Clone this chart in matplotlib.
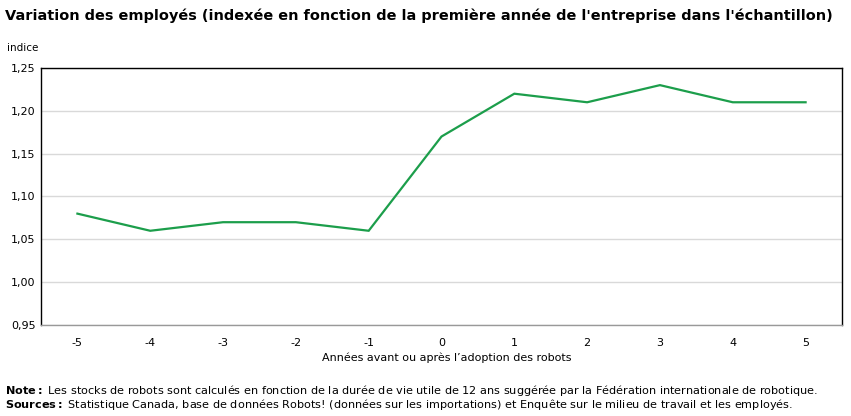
import matplotlib
matplotlib.use("Agg")
import matplotlib.pyplot as plt
from matplotlib.ticker import FuncFormatter

plt.rcParams["axes.unicode_minus"] = False

years = [-5, -4, -3, -2, -1, 0, 1, 2, 3, 4, 5]
values = [1.08, 1.06, 1.07, 1.07, 1.06, 1.17, 1.22, 1.21, 1.23, 1.21, 1.21]
yticks = [0.95, 1.00, 1.05, 1.10, 1.15, 1.20, 1.25]

W, H = 851, 416
fig = plt.figure(figsize=(W/100, H/100), dpi=100)
ax = fig.add_axes([41/W, 1-325/H, (842-41)/W, (325-68)/H])

ax.plot(years, values, color="#1c9e4b", lw=1.6, solid_joinstyle="miter")
ax.set_xlim(-5.5, 5.5)
ax.set_ylim(0.95, 1.25)
ax.set_yticks(yticks)
ax.set_xticks(years)
ax.set_xticklabels([str(y) for y in years])
ax.yaxis.set_major_formatter(FuncFormatter(lambda v, p: f"{v:.2f}".replace(".", ",")))
ax.grid(axis="y", color="#d9d9d9", lw=1)
ax.set_axisbelow(True)
ax.tick_params(axis="both", length=0, labelsize=8, colors="#000000")
ax.tick_params(axis="x", pad=9)
ax.tick_params(axis="y", pad=4)
for s in ["left", "top", "right"]:
    ax.spines[s].set_color("black")
    ax.spines[s].set_linewidth(1)
ax.spines["bottom"].set_color("#999999")
ax.spines["bottom"].set_linewidth(1)

fig.text(5/W, 1-16/H, "Variation des employés (indexée en fonction de la première année de l'entreprise dans l'échantillon)",
         fontsize=10.42, fontweight="bold", va="center", ha="left")
fig.text(7/W, 1-48/H, "indice", fontsize=7.5, va="center", ha="left")
fig.text(447/W, 1-358/H, "Années avant ou après l’adoption des robots", fontsize=8, va="center", ha="center")
fig.text(5/W, 1-391/H, r"$\bf{Note :}$ Les stocks de robots sont calculés en fonction de la durée de vie utile de 12 ans suggérée par la Fédération internationale de robotique.",
         fontsize=8.1, va="center", ha="left")
fig.text(5/W, 1-405/H, r"$\bf{Sources :}$ Statistique Canada, base de données Robots! (données sur les importations) et Enquête sur le milieu de travail et les employés.",
         fontsize=8.1, va="center", ha="left")

fig.savefig("out.png", dpi=100)
